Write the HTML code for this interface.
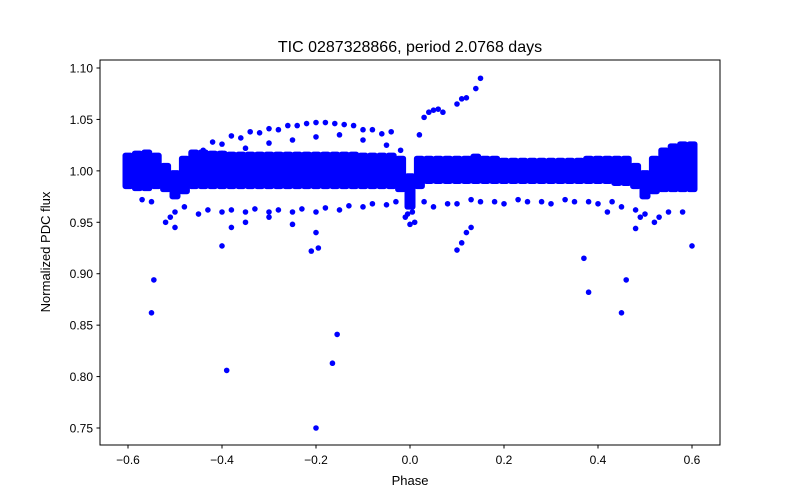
<!DOCTYPE html>
<html><head><meta charset="utf-8">
<style>
body{margin:0;background:#fff;}
svg{display:block;font-family:"Liberation Sans","DejaVu Sans",sans-serif;}
</style></head>
<body>
<svg id="chart" width="800" height="500" viewBox="0 0 800 500">
<rect width="800" height="500" fill="#fff"/>
<text x="410" y="52" text-anchor="middle" font-size="16">TIC 0287328866, period 2.0768 days</text>
<g id="marks"></g>
<rect x="100" y="60" width="620" height="385" fill="none" stroke="#000" stroke-width="1"/>
<g id="xticks"></g>
<g id="yticks"></g>
<text x="410" y="485" text-anchor="middle" font-size="13">Phase</text>
<text transform="translate(50,252) rotate(-90)" text-anchor="middle" font-size="13">Normalized PDC flux</text>
</svg>
<script>
const xTickValues=[-0.6,-0.4,-0.2,0.0,0.2,0.4,0.6];
const xTickLabels=["−0.6","−0.4","−0.2","0.0","0.2","0.4","0.6"];
const yTickValues=[0.75,0.80,0.85,0.90,0.95,1.00,1.05,1.10];
const yTickLabels=["0.75","0.80","0.85","0.90","0.95","1.00","1.05","1.10"];
const bandPhase=[-0.60,-0.58,-0.56,-0.54,-0.52,-0.50,-0.48,-0.46,-0.44,-0.42,-0.40,-0.38,-0.36,-0.34,-0.32,-0.30,-0.28,-0.26,-0.24,-0.22,-0.20,-0.18,-0.16,-0.14,-0.12,-0.10,-0.08,-0.06,-0.04,-0.02,0.00,0.02,0.04,0.06,0.08,0.10,0.12,0.14,0.16,0.18,0.20,0.22,0.24,0.26,0.28,0.30,0.32,0.34,0.36,0.38,0.40,0.42,0.44,0.46,0.48,0.50,0.52,0.54,0.56,0.58,0.60];
const bandUpper=[1.015,1.017,1.018,1.015,1.005,0.998,1.012,1.018,1.018,1.017,1.017,1.016,1.016,1.016,1.016,1.016,1.016,1.016,1.016,1.016,1.016,1.016,1.016,1.016,1.016,1.015,1.015,1.015,1.015,1.012,0.995,1.012,1.012,1.012,1.012,1.012,1.012,1.014,1.012,1.012,1.010,1.010,1.010,1.010,1.010,1.010,1.010,1.010,1.010,1.012,1.012,1.012,1.012,1.012,1.005,0.998,1.012,1.020,1.024,1.026,1.026];
const bandLower=[0.985,0.983,0.983,0.985,0.982,0.975,0.980,0.985,0.985,0.985,0.985,0.985,0.985,0.985,0.985,0.985,0.985,0.985,0.985,0.985,0.985,0.985,0.985,0.985,0.985,0.985,0.985,0.985,0.985,0.982,0.965,0.985,0.990,0.990,0.990,0.990,0.990,0.990,0.990,0.990,0.990,0.990,0.990,0.990,0.990,0.990,0.990,0.990,0.990,0.990,0.990,0.990,0.988,0.988,0.985,0.975,0.980,0.982,0.982,0.982,0.982];
const scatterPhase=[-0.44,-0.40,-0.36,-0.32,-0.28,-0.24,-0.20,-0.16,-0.12,-0.08,-0.04,-0.42,-0.38,-0.34,-0.30,-0.26,-0.22,-0.18,-0.14,-0.10,-0.06,-0.40,-0.35,-0.30,-0.25,-0.20,-0.15,-0.10,-0.05,-0.02,
-0.55,-0.50,-0.45,-0.40,-0.35,-0.30,-0.25,-0.20,-0.15,-0.10,-0.05,0.05,0.10,0.15,0.20,0.25,0.30,0.35,0.40,0.45,0.50,0.55,0.58,-0.57,-0.48,-0.43,-0.38,-0.33,-0.28,-0.23,-0.18,-0.13,-0.08,-0.03,0.03,0.08,0.13,0.18,0.23,0.28,0.33,0.38,0.43,0.48,0.53,
-0.20,-0.25,-0.30,-0.35,0.42,0.48,-0.50,-0.52,0.52,-0.51,0.49,-0.01,0.0,0.01,-0.005,0.005,
-0.55,-0.545,-0.39,-0.40,-0.38,-0.20,-0.165,-0.155,-0.21,-0.195,0.37,0.38,0.45,0.46,0.60,0.10,0.11,0.12,0.13,
0.02,0.03,0.04,0.05,0.06,0.07,0.10,0.11,0.12,0.14,0.15];
const scatterFlux=[1.020,1.026,1.032,1.037,1.040,1.044,1.047,1.046,1.044,1.040,1.038,1.028,1.034,1.038,1.041,1.044,1.046,1.047,1.045,1.040,1.036,1.017,1.022,1.027,1.030,1.033,1.035,1.030,1.025,1.020,
0.970,0.960,0.958,0.960,0.960,0.960,0.960,0.960,0.962,0.965,0.967,0.965,0.968,0.970,0.968,0.970,0.968,0.970,0.968,0.965,0.958,0.960,0.960,0.972,0.965,0.962,0.962,0.963,0.962,0.963,0.964,0.966,0.968,0.970,0.970,0.968,0.972,0.970,0.972,0.970,0.972,0.970,0.970,0.962,0.955,
0.940,0.948,0.955,0.950,0.960,0.944,0.945,0.950,0.950,0.955,0.955,0.955,0.948,0.950,0.958,0.960,
0.862,0.894,0.806,0.927,0.945,0.750,0.813,0.841,0.922,0.925,0.915,0.882,0.862,0.894,0.927,0.923,0.930,0.940,0.945,
1.035,1.052,1.057,1.059,1.060,1.057,1.065,1.070,1.071,1.080,1.090];
const NS="http://www.w3.org/2000/svg";
function xs(v){return 410+(v/0.2)*94;}
function ys(v){return 68+(1.10-v)/0.05*51.43;}
const marks=document.getElementById('marks');
for(let i=0;i<bandPhase.length;i++){
  const y1=ys(bandUpper[i]),y2=ys(bandLower[i]);
  const r=document.createElementNS(NS,'rect');
  r.setAttribute('x',xs(bandPhase[i])-5.5);
  r.setAttribute('y',y1-2.8);
  r.setAttribute('width',11);
  r.setAttribute('height',y2-y1+5.6);
  r.setAttribute('rx',2.8);
  r.setAttribute('fill','#0000ff');
  
  
  marks.appendChild(r);
}
for(let i=0;i<scatterPhase.length;i++){
  const c=document.createElementNS(NS,'circle');
  c.setAttribute('cx',xs(scatterPhase[i]));
  c.setAttribute('cy',ys(scatterFlux[i]));
  c.setAttribute('r',2.8);
  c.setAttribute('fill','#0000ff');
  
  
  marks.appendChild(c);
}
const xg=document.getElementById('xticks');
for(let i=0;i<xTickValues.length;i++){
  const x=xs(xTickValues[i]);
  const l=document.createElementNS(NS,'line');
  l.setAttribute('x1',x);l.setAttribute('x2',x);l.setAttribute('y1',445);l.setAttribute('y2',448.5);l.setAttribute('stroke','#000');
  
  
  xg.appendChild(l);
  const t=document.createElementNS(NS,'text');
  t.setAttribute('x',x);t.setAttribute('y',464);t.setAttribute('text-anchor','middle');t.setAttribute('font-size','12');
  t.textContent=xTickLabels[i];
  
  
  xg.appendChild(t);
}
const yg=document.getElementById('yticks');
for(let i=0;i<yTickValues.length;i++){
  const y=ys(yTickValues[i]);
  const l=document.createElementNS(NS,'line');
  l.setAttribute('x1',96.5);l.setAttribute('x2',100);l.setAttribute('y1',y);l.setAttribute('y2',y);l.setAttribute('stroke','#000');
  
  
  yg.appendChild(l);
  const t=document.createElementNS(NS,'text');
  t.setAttribute('x',93);t.setAttribute('y',y+4.5);t.setAttribute('text-anchor','end');t.setAttribute('font-size','12');
  t.textContent=yTickLabels[i];
  
  
  yg.appendChild(t);
}
</script>
</body></html>
